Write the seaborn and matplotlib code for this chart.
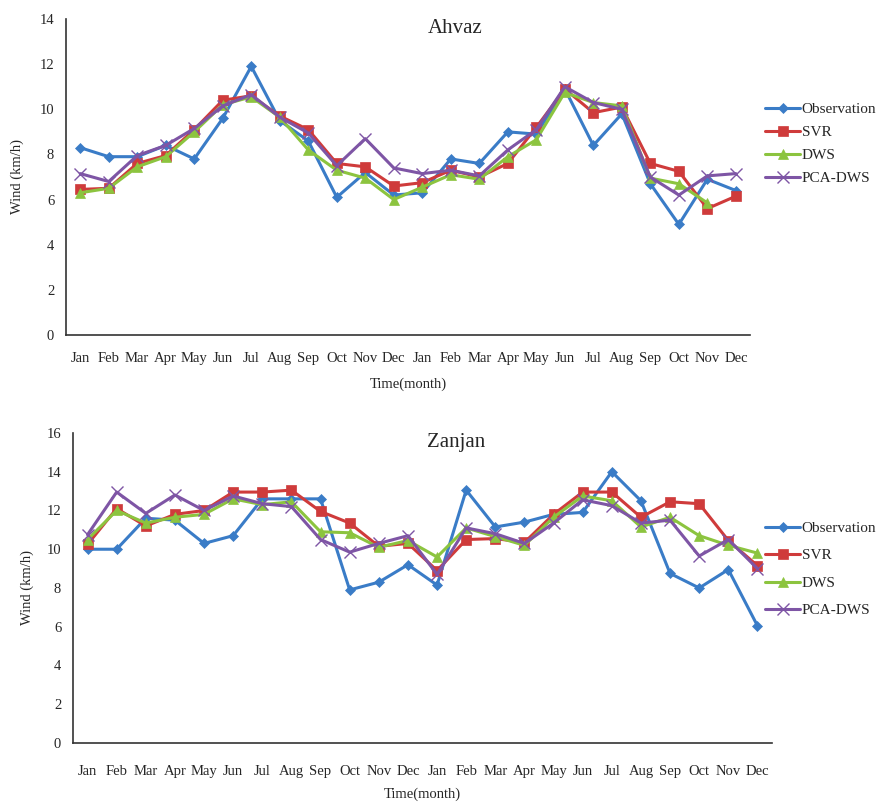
import numpy as np
import pandas as pd
import matplotlib
matplotlib.use("Agg")
import matplotlib.pyplot as plt
import seaborn as sns

# month labels (two years)
months = ["Jan", "Feb", "Mar", "Apr", "May", "Jun", "Jul", "Aug", "Sep", "Oct", "Nov", "Dec"] * 2
models = ["Observation", "SVR", "DWS", "PCA-DWS"]

# Ahvaz
ahvaz_obs = [8.3, 7.9, 7.9, 8.4, 7.8, 9.6, 11.9, 9.5, 8.6, 6.1, 7.2, 6.2,
             6.3, 7.8, 7.6, 9.0, 8.9, 10.9, 8.4, 9.8, 6.7, 4.9, 6.9, 6.4]
ahvaz_svr = [6.45, 6.5, 7.6, 7.95, 9.1, 10.4, 10.6, 9.7, 9.1, 7.6, 7.45, 6.6,
             6.75, 7.3, 7.0, 7.6, 9.2, 10.9, 9.85, 10.1, 7.6, 7.25, 5.6, 6.15]
ahvaz_dws = [6.3, 6.5, 7.45, 7.9, 9.0, 10.2, 10.55, 9.65, 8.2, 7.3, 6.95, 6.0,
             6.55, 7.1, 6.9, 7.9, 8.65, 10.75, 10.3, 10.15, 6.95, 6.7, 5.85, np.nan]
ahvaz_pca = [7.15, 6.8, 7.95, 8.4, 9.15, 10.15, 10.65, 9.65, 8.95, 7.5, 8.7, 7.4,
             7.15, 7.3, 7.05, 8.2, 9.1, 11.0, 10.3, 10.0, 7.0, 6.2, 7.05, 7.15]

# Zanjan
zanjan_obs = [10.0, 10.0, 11.6, 11.5, 10.3, 10.7, 12.6, 12.6, 12.6, 7.9, 8.3, 9.2,
              8.15, 13.05, 11.15, 11.4, 11.8, 11.9, 14.0, 12.5, 8.75, 8.0, 8.95, 6.05]
zanjan_svr = [10.25, 12.1, 11.2, 11.8, 12.0, 12.95, 12.95, 13.05, 11.95, 11.35, 10.15, 10.3,
              8.9, 10.5, 10.55, 10.35, 11.8, 12.95, 12.95, 11.65, 12.45, 12.35, 10.45, 9.15]
zanjan_dws = [10.5, 12.0, 11.35, 11.65, 11.8, 12.6, 12.3, 12.45, 10.9, 10.85, 10.1, 10.45,
              9.6, 11.1, 10.65, 10.2, 11.65, 12.75, 12.5, 11.15, 11.65, 10.7, 10.2, 9.8]
zanjan_pca = [10.75, 12.95, 11.85, 12.8, 12.0, 12.75, 12.35, 12.2, 10.5, 9.85, 10.3, 10.7,
              8.7, 11.1, 10.8, 10.3, 11.35, 12.55, 12.25, 11.35, 11.5, 9.65, 10.5, 9.0]

colors = {"Observation": "#3a7cc7", "SVR": "#cf3b3b", "DWS": "#8cc43f", "PCA-DWS": "#7e55a5"}
markers = {"Observation": "D", "SVR": "s", "DWS": "^", "PCA-DWS": "x"}
msizes = {"Observation": 5.5, "SVR": 7.5, "DWS": 7.5, "PCA-DWS": 8}

sns.set_style("white")
plt.rcParams["font.family"] = ["Liberation Serif", "DejaVu Serif"]

fig = plt.figure(figsize=(8.76, 8.06), dpi=100)
ax1 = fig.add_axes([0.0753, 0.5844, 0.781, 0.392])
ax2 = fig.add_axes([0.0833, 0.0782, 0.798, 0.3846])


def draw(ax, series, ymax, title, tx, leg_anchor, leg_space, tpad, lpad, ylpad):
    idx = np.arange(len(months))
    for name, vals in zip(models, series):
        sns.lineplot(x=idx, y=vals, ax=ax, color=colors[name], marker=markers[name],
                     markersize=msizes[name], markeredgecolor=colors[name],
                     markeredgewidth=1.0 if name == "PCA-DWS" else 0.5,
                     linewidth=2.2, label=name)
    ax.set_xlim(-0.5, len(months) - 0.5)
    ax.set_ylim(0, ymax)
    ax.set_yticks(np.arange(0, ymax + 1, 2))
    ax.set_xticks(np.arange(-0.5, len(months), 1.0))
    ax.set_xticklabels([])
    ax.set_xticks(idx, minor=True)
    ax.set_xticklabels(months, minor=True, fontsize=10.5)
    ax.tick_params(axis="x", which="major", direction="out", length=5, width=1, color="#333333")
    ax.tick_params(axis="x", which="minor", length=0, pad=tpad)
    ax.tick_params(axis="y", direction="out", length=5, width=1, color="#333333", labelsize=10.5)
    for s in ["top", "right"]:
        ax.spines[s].set_visible(False)
    for s in ["left", "bottom"]:
        ax.spines[s].set_color("#333333")
        ax.spines[s].set_linewidth(1.2)
    ax.set_xlabel("Time(month)", fontsize=10.5, labelpad=lpad)
    ax.set_ylabel("Wind (km/h)", fontsize=10.5, labelpad=ylpad)
    ax.text(tx, 0.97, title, transform=ax.transAxes, fontsize=15, ha="center", va="center")
    ax.legend(loc="upper left", bbox_to_anchor=leg_anchor, frameon=False, fontsize=11,
              handlelength=2.3, handletextpad=0.1, labelspacing=leg_space,
              borderpad=0, borderaxespad=0)


draw(ax1, [ahvaz_obs, ahvaz_svr, ahvaz_dws, ahvaz_pca], 14, "Ahvaz", 0.569,
     (1.022, 0.735), 0.6, 12, 9, 11)
draw(ax2, [zanjan_obs, zanjan_svr, zanjan_dws, zanjan_pca], 16, "Zanjan", 0.548,
     (0.99, 0.715), 0.9, 16, 7, 9)

fig.savefig("out.png", dpi=100)
